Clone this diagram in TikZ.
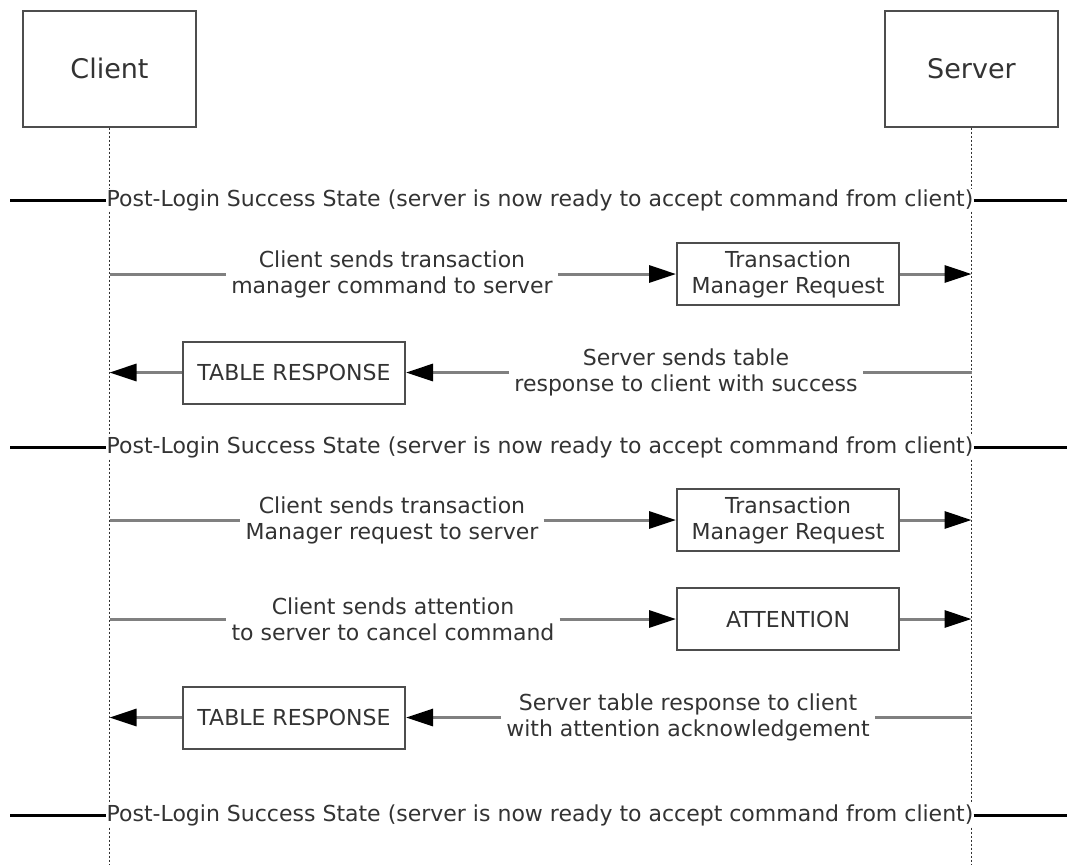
\documentclass[tikz,border=0pt]{standalone}
\usepackage{fontspec}
\setmainfont{DejaVu Sans}
\usetikzlibrary{arrows.meta}
\definecolor{txt}{HTML}{333333}
\definecolor{boxc}{HTML}{4D4D4D}
\definecolor{linec}{HTML}{808080}
\begin{document}
\begin{tikzpicture}[x=1pt,y=-1pt,
  every node/.style={text=txt, font=\fontsize{22}{26}\selectfont},
  actor/.style={draw=boxc, line width=2pt, minimum width=173pt, minimum height=116pt, font=\fontsize{27}{32}\selectfont, fill=white},
  msgbox/.style={draw=boxc, line width=2pt, minimum width=222pt, minimum height=62pt, align=center, fill=white, inner sep=2pt},
  lbl/.style={align=center, fill=white, inner sep=5pt},
  state/.style={fill=white, inner sep=0pt},
  msg/.style={draw=linec, line width=3pt},
  arr/.style={msg, -{Triangle[length=27pt,width=17pt,color=black]}},
  life/.style={draw=black!80, line width=1.6pt, dash pattern=on 2pt off 2pt},
  sepline/.style={draw=black, line width=3pt}
]
\useasboundingbox (0,0) rectangle (1067,865);

% actors
\node[actor] (client) at (109.5,68.5) {Client};
\node[actor] (server) at (971.5,68.5) {Server};
\coordinate (cend) at (109.5,865);
\coordinate (send) at (971.5,865);
\draw[life] (client.south) -- (cend);
\draw[life] (server.south) -- (send);

% state separators
\foreach \n/\y in {1/200,2/447,3/815}{
  \node[state] (s\n) at (540,\y) {Post-Login Success State (server is now ready to accept command from client)};
  \coordinate (s\n l) at (10,\y);
  \coordinate (s\n r) at (1067,\y);
  \draw[sepline] (s\n l) -- (s\n.west);
  \draw[sepline] (s\n.east) -- (s\n r);
}

% row 1
\coordinate (c1) at (109.5,274);
\coordinate (v1) at (971.5,274);
\node[lbl] (l1) at (392,274) {Client sends transaction\\manager command to server};
\node[msgbox] (b1) at (788,274) {Transaction\\Manager Request};
\draw[msg] (c1) -- (l1.west);
\draw[arr] (l1.east) -- (b1.west);
\draw[arr] (b1.east) -- (v1);

% row 2
\coordinate (c2) at (109.5,372.5);
\coordinate (v2) at (971.5,372.5);
\node[msgbox] (b2) at (294,372.5) {TABLE RESPONSE};
\node[lbl] (l2) at (686,372.5) {Server sends table\\response to client with success};
\draw[msg] (v2) -- (l2.east);
\draw[arr] (l2.west) -- (b2.east);
\draw[arr] (b2.west) -- (c2);

% row 3
\coordinate (c3) at (109.5,520);
\coordinate (v3) at (971.5,520);
\node[lbl] (l3) at (392,520) {Client sends transaction\\Manager request to server};
\node[msgbox] (b3) at (788,520) {Transaction\\Manager Request};
\draw[msg] (c3) -- (l3.west);
\draw[arr] (l3.east) -- (b3.west);
\draw[arr] (b3.east) -- (v3);

% row 4
\coordinate (c4) at (109.5,619);
\coordinate (v4) at (971.5,619);
\node[lbl] (l4) at (393,619) {Client sends attention\\to server to cancel command};
\node[msgbox] (b4) at (788,619) {ATTENTION};
\draw[msg] (c4) -- (l4.west);
\draw[arr] (l4.east) -- (b4.west);
\draw[arr] (b4.east) -- (v4);

% row 5
\coordinate (c5) at (109.5,717.5);
\coordinate (v5) at (971.5,717.5);
\node[msgbox] (b5) at (294,717.5) {TABLE RESPONSE};
\node[lbl] (l5) at (688,717.5) {Server table response to client\\with attention acknowledgement};
\draw[msg] (v5) -- (l5.east);
\draw[arr] (l5.west) -- (b5.east);
\draw[arr] (b5.west) -- (c5);
\end{tikzpicture}
\end{document}
